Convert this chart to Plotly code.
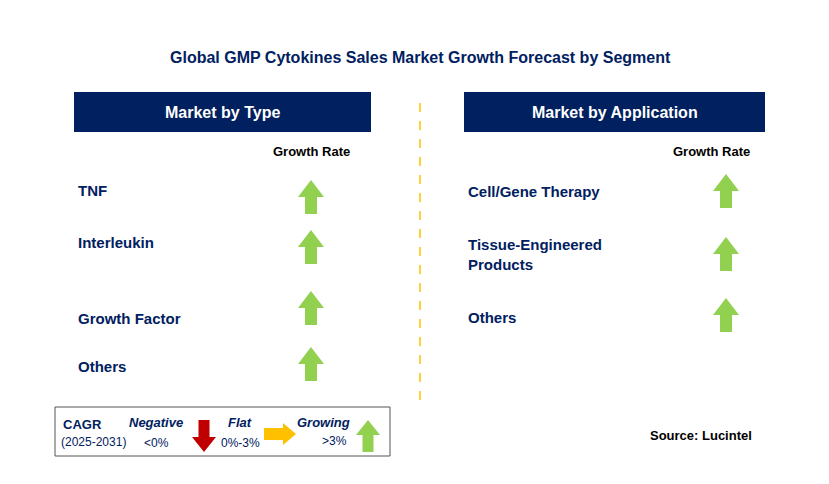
import plotly.graph_objects as go

W, H = 829, 484
NAVY = "#002060"
GREEN = "#92d050"

type_segments = ["TNF", "Interleukin", "Growth Factor", "Others"]
type_growth = ["growing", "growing", "growing", "growing"]
type_label_y = [190, 242, 318, 366]
type_arrow_y = [197, 247, 308, 364]

app_segments = ["Cell/Gene Therapy", "Tissue-Engineered<br>Products", "Others"]
app_growth = ["growing", "growing", "growing"]
app_label_y = [191, 254, 317]
app_arrow_y = [191, 254, 315]

arrow_colors = {"growing": GREEN, "flat": "#ffc000", "negative": "#c00000"}


def up_arrow(cx, cy, w=26, h=34, shaft=12, head=17):
    t, b = cy - h / 2, cy + h / 2
    return (f"M{cx},{t} L{cx + w/2},{t + head} L{cx + shaft/2},{t + head} "
            f"L{cx + shaft/2},{b} L{cx - shaft/2},{b} L{cx - shaft/2},{t + head} "
            f"L{cx - w/2},{t + head} Z")


def down_arrow(cx, cy, w=24, h=32, shaft=11, head=15):
    t, b = cy - h / 2, cy + h / 2
    return (f"M{cx},{b} L{cx + w/2},{b - head} L{cx + shaft/2},{b - head} "
            f"L{cx + shaft/2},{t} L{cx - shaft/2},{t} L{cx - shaft/2},{b - head} "
            f"L{cx - w/2},{b - head} Z")


def right_arrow(cx, cy, w=32, h=22, shaft=12, head=13):
    l, r = cx - w / 2, cx + w / 2
    return (f"M{r},{cy} L{r - head},{cy - h/2} L{r - head},{cy - shaft/2} "
            f"L{l},{cy - shaft/2} L{l},{cy + shaft/2} L{r - head},{cy + shaft/2} "
            f"L{r - head},{cy + h/2} Z")


def arrow_for(status, cx, cy):
    if status == "growing":
        return up_arrow(cx, cy)
    if status == "negative":
        return down_arrow(cx, cy)
    return right_arrow(cx, cy)


shapes = []
ann = []


def text(x, y, s, size=12, color=NAVY, bold=True, italic=False, anchor="left"):
    if bold:
        s = f"<b>{s}</b>"
    if italic:
        s = f"<i>{s}</i>"
    ann.append(dict(x=x, y=y, text=s, showarrow=False, xanchor=anchor, yanchor="middle",
                    align="left", font=dict(family="Arial", size=size, color=color)))


def path(p, color):
    shapes.append(dict(type="path", path=p, fillcolor=color, line=dict(width=0)))


text(420, 57, "Global GMP Cytokines Sales Market Growth Forecast by Segment", 16, anchor="center")

# header boxes
for x0, x1, label in [(74, 371, "Market by Type"), (464, 765, "Market by Application")]:
    shapes.append(dict(type="rect", x0=x0, x1=x1, y0=92, y1=132, fillcolor=NAVY, line=dict(width=0)))
    text((x0 + x1) / 2, 112, label, 16, color="white", anchor="center")

shapes.append(dict(type="line", x0=420, x1=420, y0=103, y1=403,
                   line=dict(color="#ffc000", width=1.5, dash="dash")))

text(311, 151, "Growth Rate", 13, color="black", anchor="center")
text(711, 151, "Growth Rate", 13, color="black", anchor="center")

for name, g, ly, ay in zip(type_segments, type_growth, type_label_y, type_arrow_y):
    text(76, ly, name, 15)
    path(arrow_for(g, 311, ay), arrow_colors[g])

for name, g, ly, ay in zip(app_segments, app_growth, app_label_y, app_arrow_y):
    text(466, ly, name, 15)
    path(arrow_for(g, 726, ay), arrow_colors[g])

# legend box
shapes.append(dict(type="rect", x0=55, x1=390, y0=407, y1=456, line=dict(color="#555555", width=1)))
text(61, 424, "CAGR", 13)
text(59, 442, "(2025-2031)", 12, bold=False)
text(127, 422, "Negative", 13, italic=True)
text(142, 443, "&lt;0%", 12, bold=False)
path(down_arrow(204, 436), arrow_colors["negative"])
text(226, 422, "Flat", 13, italic=True)
text(219, 443, "0%-3%", 12, bold=False)
path(right_arrow(280, 434), arrow_colors["flat"])
text(295, 422, "Growing", 13, italic=True)
text(320, 441, "&gt;3%", 12, bold=False)
path(up_arrow(368, 436, w=24, h=32, shaft=11, head=15), GREEN)

text(701, 435, "Source: Lucintel", 13, color="black", anchor="center")

fig = go.Figure()
fig.update_layout(
    width=W, height=H, margin=dict(l=0, r=0, t=0, b=0),
    paper_bgcolor="white", plot_bgcolor="white", showlegend=False,
    # page body adds an 8px offset; shift the frame to compensate
    xaxis=dict(range=[8, W + 8], visible=False, fixedrange=True),
    yaxis=dict(range=[H + 8, 8], visible=False, fixedrange=True),
    shapes=shapes, annotations=ann,
)
fig.write_html("out.html")
